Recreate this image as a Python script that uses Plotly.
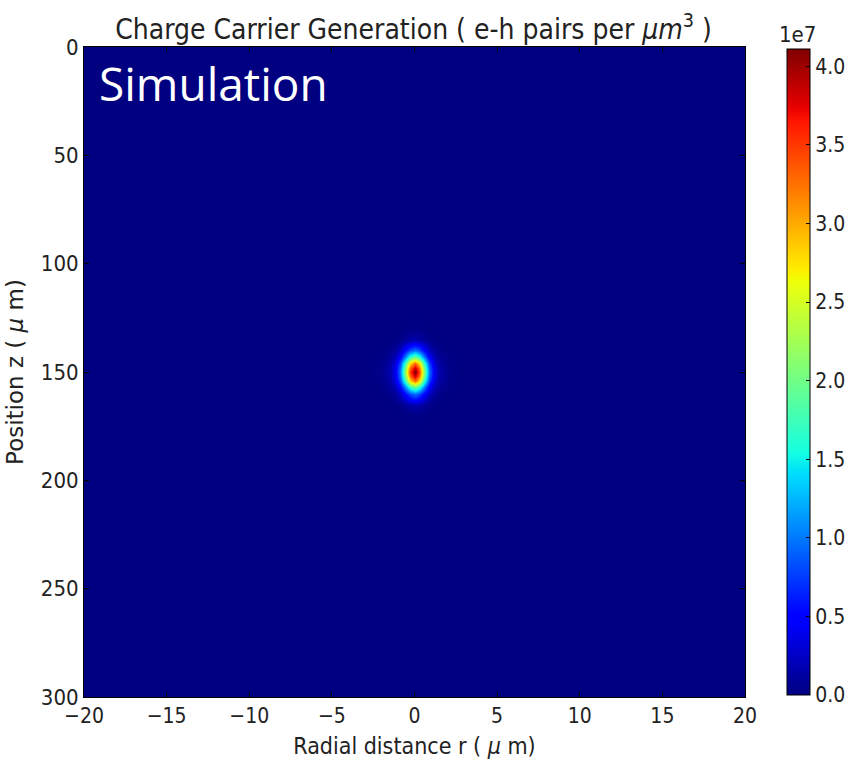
import plotly.graph_objects as go
import numpy as np

# Radial positions (µm) and relative radial profile
r_nodes = [-20, -3, -2, -1.5, -1.2, -0.9, -0.6, -0.3, 0, 0.3, 0.6, 0.9, 1.2, 1.5, 2, 3, 20]
r_profile = [0, 0, 0.01, 0.04, 0.1, 0.24, 0.52, 0.85, 1.0, 0.85, 0.52, 0.24, 0.1, 0.04, 0.01, 0, 0]
# Depth positions (µm) and relative axial profile
z_nodes = [0, 120, 130, 135, 140, 143, 146, 148, 150, 152, 154, 157, 160, 165, 170, 180, 300]
z_profile = [0, 0, 0.005, 0.04, 0.23, 0.48, 0.79, 0.94, 1.0, 0.94, 0.79, 0.48, 0.23, 0.04, 0.005, 0, 0]
peak_value = 4.11e7  # e-h pairs per µm^3

cbar_ticks = [0, 0.5e7, 1.0e7, 1.5e7, 2.0e7, 2.5e7, 3.0e7, 3.5e7, 4.0e7]
cbar_ticktext = ["0.0", "0.5", "1.0", "1.5", "2.0", "2.5", "3.0", "3.5", "4.0"]
x_ticks = [-20, -15, -10, -5, 0, 5, 10, 15, 20]
x_ticktext = ["\u221220", "\u221215", "\u221210", "\u22125", "0", "5", "10", "15", "20"]
y_ticks = [0, 50, 100, 150, 200, 250, 300]

G = peak_value * np.outer(z_profile, r_profile)

# matplotlib "jet" colormap
jet_seg = {
    "r": [(0, 0), (0.35, 0), (0.66, 1), (0.89, 1), (1, 0.5)],
    "g": [(0, 0), (0.125, 0), (0.375, 1), (0.64, 1), (0.91, 0), (1, 0)],
    "b": [(0, 0.5), (0.11, 1), (0.34, 1), (0.65, 0), (1, 0)],
}
def jet(t):
    out = []
    for k in "rgb":
        xs = [p[0] for p in jet_seg[k]]
        ys = [p[1] for p in jet_seg[k]]
        out.append(int(round(255 * np.interp(t, xs, ys))))
    return "rgb(%d,%d,%d)" % tuple(out)
stops = sorted(set([0, 0.11, 0.125, 0.34, 0.35, 0.375, 0.64, 0.65, 0.66, 0.89, 0.91, 1] + list(np.linspace(0, 1, 41))))
jet_scale = [[float(s), jet(s)] for s in stops]

font = "DejaVu Sans Condensed, DejaVu Sans"
txt = "#222"

fig = go.Figure()
fig.add_trace(go.Heatmap(
    x=r_nodes, y=z_nodes, z=G, zsmooth="best",
    colorscale=jet_scale, zmin=0, zmax=peak_value,
    colorbar=dict(
        x=(787 - 84) / 661, xanchor="left", y=0.5, yanchor="middle",
        len=646, lenmode="pixels", thickness=23, thicknessmode="pixels",
        outlinecolor="black", outlinewidth=1,
        tickvals=cbar_ticks, ticktext=cbar_ticktext,
        ticks="inside", ticklen=4, tickcolor="black",
        tickfont=dict(family=font, size=21, color=txt),
        xpad=0, ypad=0,
    ),
))

fig.update_layout(
    width=850, height=766,
    margin=dict(l=84, r=105, t=47, b=69, autoexpand=False),
    paper_bgcolor="white", plot_bgcolor=jet(0),
    title=dict(
        text="Charge Carrier Generation ( e-h pairs per <i>μm</i><sup>3</sup> )",
        x=(112 + 715) / 2 / 850, xanchor="center", y=0.962, yanchor="middle",
        font=dict(family=font, size=28, color=txt),
    ),
    xaxis=dict(
        range=[-20, 20], tickvals=x_ticks, ticktext=x_ticktext,
        ticks="inside", ticklen=5, tickcolor="black", showline=True, linecolor="black", linewidth=1, mirror="ticks",
        showgrid=False, zeroline=False,
        tickfont=dict(family=font, size=21, color=txt),
        title=dict(text="Radial distance r ( <i>μ</i> m)", font=dict(family=font, size=23, color=txt), standoff=10),
    ),
    yaxis=dict(
        range=[300, 0], tickvals=y_ticks,
        ticks="inside", ticklen=5, tickcolor="black", showline=True, linecolor="black", linewidth=1, mirror="ticks",
        showgrid=False, zeroline=False,
        tickfont=dict(family=font, size=22, color=txt),
        title=dict(text="Position z ( <i>μ</i> m)", font=dict(family="DejaVu Sans", size=23, color=txt), standoff=10),
    ),
    annotations=[
        dict(text="Simulation", x=0.02, y=0.995, xref="paper", yref="paper", xanchor="left", yanchor="top",
             showarrow=False, font=dict(family="Open Sans", size=46, color="white")),
        dict(text="1e7", x=(798 - 84) / 661, y=(697 - 35) / 650, xref="paper", yref="paper", xanchor="center", yanchor="middle",
             showarrow=False, font=dict(family=font, size=22, color=txt)),
    ],
)

fig.write_html("out.html")
